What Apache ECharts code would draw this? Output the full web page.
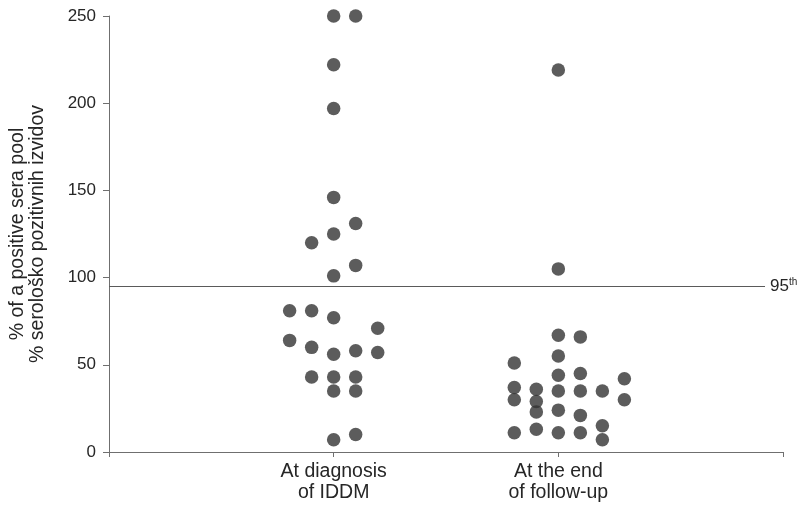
<!DOCTYPE html>
<html>
<head>
<meta charset="utf-8">
<script src="https://cdn.jsdelivr.net/npm/echarts@6/dist/echarts.min.js"></script>
<style>html,body{margin:0;padding:0;background:#fff;}#c{width:801px;height:506px;}</style>
</head>
<body>
<div id="c"></div>
<script>
// ---- data ----
var categories = ['At diagnosis\nof IDDM', 'At the end\nof follow-up'];
var yTicks = [0, 50, 100, 150, 200, 250];
var diagnosisValues = [250,250,222,197,146,131,125,120,107,101,81,81,77,71,64,60,56,58,57,43,43,43,35,35,7,10];
var diagnosisCols   = [0,1,0,0,0,1,0,-1,1,0,-2,-1,0,2,-2,-1,0,1,2,-1,0,1,0,1,0,1];
var followValues = [219,105,67,66,55,51,44,45,42,37,36,35,35,35,30,29,30,23,24,21,15,11,13,11,11,7];
var followCols   = [0,0,0,1,0,-2,0,1,3,-2,-1,0,1,2,-2,-1,3,-1,0,1,2,-2,-1,0,1,2];
var percentileValue = 95;
var percentileLabel = ['95', 'th'];
var yName = ['% of a positive sera pool', '% serološko pozitivnih izvidov'];

// ---- build ----
var colSpacing = 0.098;
function build(catIndex, vals, cols) {
  return vals.map(function (v, i) { return [catIndex + 1 + cols[i] * colSpacing, v]; });
}
var font = 'Liberation Sans, Arial, Helvetica, sans-serif';
var chart = echarts.init(document.getElementById('c'), null, {renderer: 'canvas'});
chart.setOption({
  animation: false,
  backgroundColor: '#fff',
  grid: {left: 108.5, right: 18, top: 16, bottom: 54},
  xAxis: {
    type: 'value', min: 0, max: 3, interval: 1,
    axisLine: {lineStyle: {color: '#6f6f6f', width: 1}},
    axisTick: {show: true, length: 5, lineStyle: {color: '#6f6f6f'}},
    splitLine: {show: false},
    axisLabel: {
      margin: 9, color: '#262626', fontSize: 19.5, fontFamily: font, lineHeight: 21,
      formatter: function (v) { return (v >= 1 && v <= categories.length) ? categories[v - 1] : ''; }
    }
  },
  yAxis: {
    type: 'value', min: yTicks[0], max: yTicks[yTicks.length - 1], interval: yTicks[1] - yTicks[0],
    name: yName.join('\n'), nameLocation: 'middle', nameRotate: 90, nameGap: 61,
    nameTextStyle: {color: '#262626', fontSize: 19.5, fontFamily: font, lineHeight: 20},
    axisLine: {show: true, lineStyle: {color: '#6f6f6f', width: 1}},
    axisTick: {show: true, length: 6, lineStyle: {color: '#6f6f6f'}},
    splitLine: {show: false},
    axisLabel: {margin: 13, color: '#262626', fontSize: 17, fontFamily: font}
  },
  series: [
    {
      type: 'scatter', symbol: 'circle', symbolSize: 13.5,
      itemStyle: {color: '#333333'},
      data: build(0, diagnosisValues, diagnosisCols),
      markLine: {
        silent: true, symbol: 'none',
        lineStyle: {color: '#5a5a5a', width: 1, type: 'solid'},
        label: {
          position: 'end', distance: 5,
          formatter: '{a|' + percentileLabel[0] + '}{b|' + percentileLabel[1] + '}',
          rich: {
            a: {fontSize: 17, color: '#262626', fontFamily: font, lineHeight: 18},
            b: {fontSize: 10, color: '#262626', fontFamily: font, verticalAlign: 'top', lineHeight: 18}
          }
        },
        data: [[{coord: [0, percentileValue]}, {coord: [2.92, percentileValue]}]]
      }
    },
    {
      type: 'scatter', symbol: 'circle', symbolSize: 13.5,
      itemStyle: {color: '#333333'},
      data: build(1, followValues, followCols)
    }
  ]
});
</script>
</body>
</html>
